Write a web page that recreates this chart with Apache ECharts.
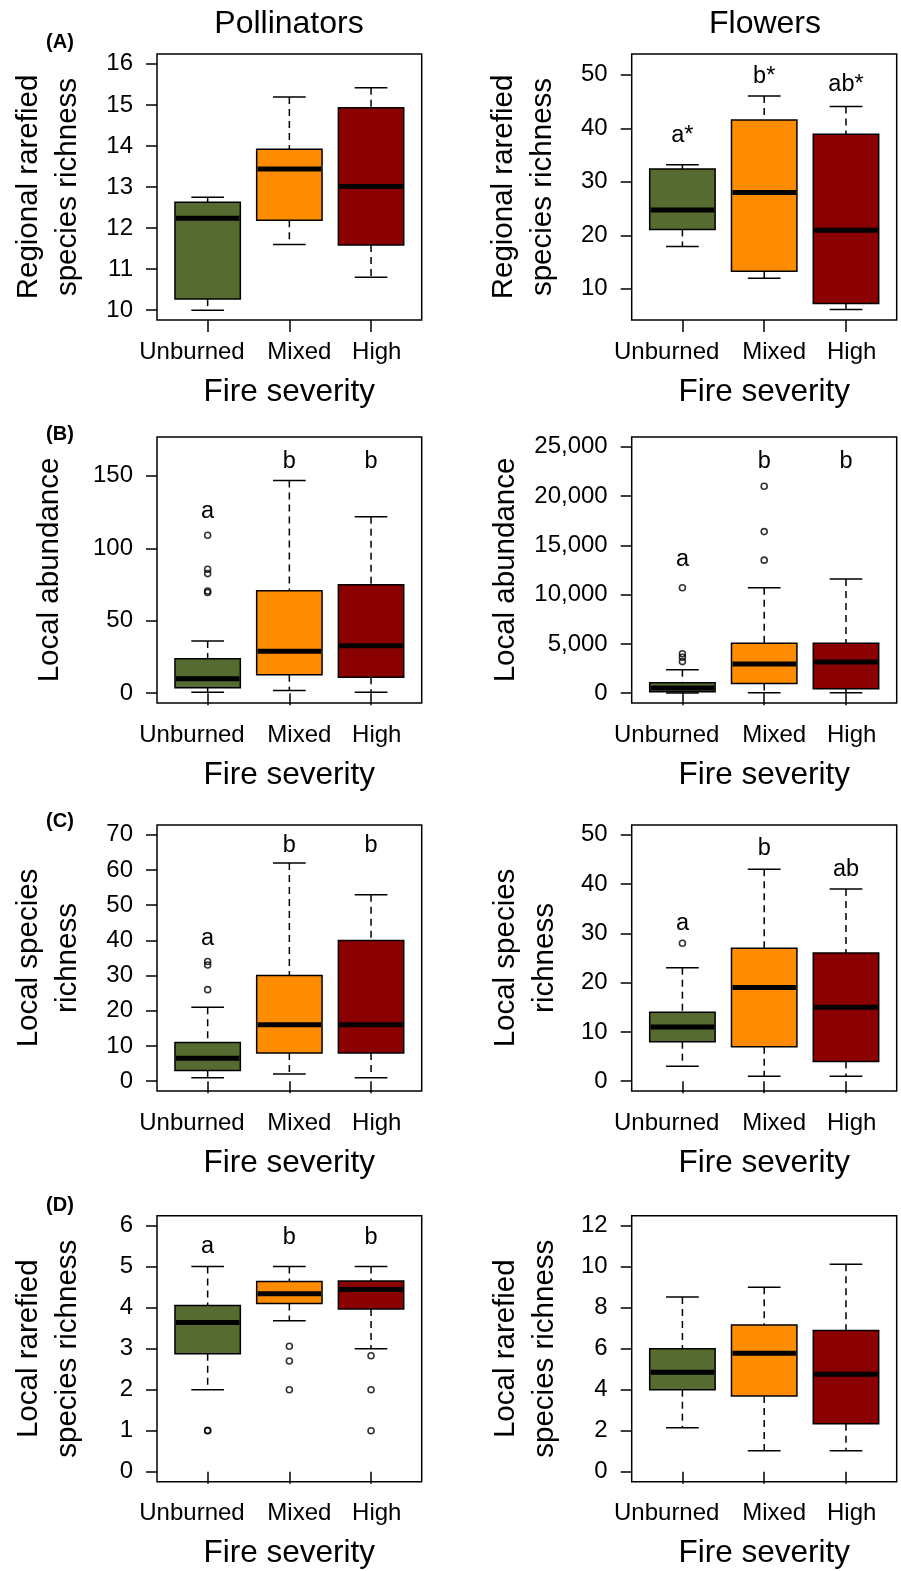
<!DOCTYPE html>
<html>
<head>
<meta charset="utf-8">
<title>Fire severity boxplots</title>
<script src="https://cdn.jsdelivr.net/npm/echarts@6/dist/echarts.min.js"></script>
<style>
  html, body { margin: 0; padding: 0; background: #fff; }
  #chart { width: 901px; height: 1571px; }
</style>
</head>
<body>
<div id="chart"></div>
<script>
const categories = ['Unburned', 'Mixed', 'High'];
const fillColors = ['#556B2F', '#FF8C00', '#8B0000'];

// each row: [lower whisker, Q1, median, Q3, upper whisker] for Unburned, Mixed, High
const regionalPollinators = [[10.0, 10.27, 12.24, 12.63, 12.75], [11.6, 12.19, 13.44, 13.92, 15.19], [10.8, 11.59, 13.01, 14.93, 15.42]];
const regionalFlowers = [[17.9, 21.06, 24.7, 32.4, 33.19], [11.94, 13.25, 28.0, 41.56, 46.06], [6.1, 7.25, 20.94, 38.9, 44.06]];
const abundancePollinators = [[0.7, 3.7, 9.9, 23.8, 36], [1.9, 12.7, 28.9, 70.7, 146.8], [0.7, 10.9, 32.8, 74.9, 121.8]];
const abundanceFlowers = [[20, 136, 510, 1053, 2378], [50, 985, 2955, 5061, 10700], [50, 442, 3159, 5061, 11583]];
const richnessPollinators = [[1, 3, 6.5, 11, 21], [2, 8, 16, 30, 62], [1, 8, 16, 40, 53]];
const richnessFlowers = [[3, 8, 11, 14, 23], [1, 7, 19, 27, 43], [1, 4, 15, 26, 39]];
const rarefiedPollinators = [[2, 2.88, 3.64, 4.05, 5], [3.68, 4.1, 4.34, 4.64, 5], [3, 3.97, 4.44, 4.65, 5]];
const rarefiedFlowers = [[2.15, 4, 4.85, 6, 8.52], [1.03, 3.7, 5.78, 7.15, 9], [1.03, 2.34, 4.75, 6.89, 10.11]];

// outliers per category
const abundancePollinatorsOutliers = [[109, 85.5, 82.5, 70.5, 69.5], [], []];
const abundanceFlowersOutliers = [[10700, 4000, 3650, 3200], [21000, 16400, 13500], []];
const richnessPollinatorsOutliers = [[34, 33, 26], [], []];
const richnessFlowersOutliers = [[28], [], []];
const rarefiedPollinatorsOutliers = [[1, 1.01], [3.06, 2.7, 2], [2.83, 2, 1]];

// significance letters and the value they sit at
const regionalFlowersLetters = ['a*', 'b*', 'ab*'];
const regionalFlowersLetterAt = [38.7, 49.6, 48.1];
const abundancePollinatorsLetters = ['a', 'b', 'b'];
const abundancePollinatorsLetterAt = [125.7, 160.2, 160.2];
const abundanceFlowersLetters = ['a', 'b', 'b'];
const abundanceFlowersLetterAt = [13554, 23473, 23473];
const richnessPollinatorsLetters = ['a', 'b', 'b'];
const richnessPollinatorsLetterAt = [40.6, 66.9, 66.9];
const richnessFlowersLetters = ['a', 'b', 'ab'];
const richnessFlowersLetterAt = [31.9, 47.15, 42.9];
const rarefiedPollinatorsLetters = ['a', 'b', 'b'];
const rarefiedPollinatorsLetterAt = [5.48, 5.71, 5.71];

// y tick labels
const regionalPollinatorsTicks = [10, 11, 12, 13, 14, 15, 16];
const regionalFlowersTicks = [10, 20, 30, 40, 50];
const abundancePollinatorsTicks = [0, 50, 100, 150];
const abundanceFlowersTicks = [0, 5000, 10000, 15000, 20000, 25000];
const richnessPollinatorsTicks = [0, 10, 20, 30, 40, 50, 60, 70];
const richnessFlowersTicks = [0, 10, 20, 30, 40, 50];
const rarefiedPollinatorsTicks = [0, 1, 2, 3, 4, 5, 6];
const rarefiedFlowersTicks = [0, 2, 4, 6, 8, 10, 12];

const FONT = "'Liberation Sans', Arial, Helvetica, sans-serif";

const panels = [
  { box: regionalPollinators, ticks: regionalPollinatorsTicks, yMin: 9.76, yMax: 16.24, yName: 'Regional rarefied\nspecies richness', nameGap: 70 },
  { box: regionalFlowers, ticks: regionalFlowersTicks, yMin: 4.15, yMax: 53.9, yName: 'Regional rarefied\nspecies richness', nameGap: 69,
    letters: regionalFlowersLetters, letterAt: regionalFlowersLetterAt },
  { box: abundancePollinators, ticks: abundancePollinatorsTicks, yMin: -6.8, yMax: 176.8, yName: 'Local abundance', nameGap: 88,
    outliers: abundancePollinatorsOutliers, letters: abundancePollinatorsLetters, letterAt: abundancePollinatorsLetterAt },
  { box: abundanceFlowers, ticks: abundanceFlowersTicks, yMin: -1000, yMax: 26000, yName: 'Local abundance', nameGap: 106,
    outliers: abundanceFlowersOutliers, letters: abundanceFlowersLetters, letterAt: abundanceFlowersLetterAt },
  { box: richnessPollinators, ticks: richnessPollinatorsTicks, yMin: -2.8, yMax: 72.8, yName: 'Local species\nrichness', nameGap: 69.5,
    outliers: richnessPollinatorsOutliers, letters: richnessPollinatorsLetters, letterAt: richnessPollinatorsLetterAt },
  { box: richnessFlowers, ticks: richnessFlowersTicks, yMin: -2, yMax: 52, yName: 'Local species\nrichness', nameGap: 67.5,
    outliers: richnessFlowersOutliers, letters: richnessFlowersLetters, letterAt: richnessFlowersLetterAt },
  { box: rarefiedPollinators, ticks: rarefiedPollinatorsTicks, yMin: -0.24, yMax: 6.24, yName: 'Local rarefied\nspecies richness', nameGap: 69.5,
    outliers: rarefiedPollinatorsOutliers, letters: rarefiedPollinatorsLetters, letterAt: rarefiedPollinatorsLetterAt },
  { box: rarefiedFlowers, ticks: rarefiedFlowersTicks, yMin: -0.48, yMax: 12.48, yName: 'Local rarefied\nspecies richness', nameGap: 67.5 }
];

const colLeft = [157, 631.7];
const colWidth = [264.7, 265];
const rowTop = [54, 437, 825, 1215.7];
const plotHeight = 266;
const labelAt = [0.808, 2.122, 3.07];

const grid = [], xAxis = [], yAxis = [], series = [];

panels.forEach(function (p, i) {
  const row = Math.floor(i / 2), col = i % 2;
  grid.push({
    left: colLeft[col], top: rowTop[row], width: colWidth[col], height: plotHeight,
    show: true, borderColor: '#000', borderWidth: 1.5, backgroundColor: 'transparent'
  });
  xAxis.push({
    gridIndex: i, type: 'value', min: 0.38, max: 3.62,
    axisLine: { show: false }, splitLine: { show: false },
    axisTick: { show: true, inside: false, length: 12, customValues: [1, 2, 3], lineStyle: { color: '#000', width: 1.5 } },
    axisLabel: {
      customValues: labelAt, margin: 20, fontSize: 24, color: '#000', fontFamily: FONT,
      formatter: function (v) { return categories[Math.round(v) - 1]; }
    },
    name: 'Fire severity', nameLocation: 'middle', nameGap: 56,
    nameTextStyle: { fontSize: 31.5, color: '#000', fontFamily: FONT }
  });
  yAxis.push({
    gridIndex: i, type: 'value', min: p.yMin, max: p.yMax,
    axisLine: { show: false }, splitLine: { show: false },
    axisTick: { show: true, inside: false, length: 11, customValues: p.ticks, lineStyle: { color: '#000', width: 1.5 } },
    axisLabel: {
      customValues: p.ticks, margin: 24, fontSize: 24, color: '#000', fontFamily: FONT,
      formatter: function (v) { return v.toLocaleString('en-US'); }
    },
    name: p.yName, nameLocation: 'middle', nameGap: p.nameGap,
    nameTextStyle: { fontSize: 29.5, lineHeight: 39, color: '#000', fontFamily: FONT }
  });

  // boxes
  series.push({
    type: 'custom', xAxisIndex: i, yAxisIndex: i, silent: true,
    data: p.box.map(function (s, k) { return [k + 1].concat(s); }),
    renderItem: function (params, api) {
      const x = api.value(0);
      const cx = api.coord([x, 0])[0];
      const half = api.size([0.4, 0])[0];
      const cap = half / 2;
      const yLo = api.coord([x, api.value(1)])[1];
      const yQ1 = api.coord([x, api.value(2)])[1];
      const yMed = api.coord([x, api.value(3)])[1];
      const yQ3 = api.coord([x, api.value(4)])[1];
      const yHi = api.coord([x, api.value(5)])[1];
      const dashed = { stroke: '#000', lineWidth: 1.5, lineDash: [7, 5], fill: null };
      const solid = { stroke: '#000', lineWidth: 1.5, fill: null };
      return {
        type: 'group',
        children: [
          { type: 'line', shape: { x1: cx, y1: yHi, x2: cx, y2: yQ3 }, style: dashed },
          { type: 'line', shape: { x1: cx, y1: yQ1, x2: cx, y2: yLo }, style: dashed },
          { type: 'line', shape: { x1: cx - cap, y1: yHi, x2: cx + cap, y2: yHi }, style: solid },
          { type: 'line', shape: { x1: cx - cap, y1: yLo, x2: cx + cap, y2: yLo }, style: solid },
          { type: 'rect', shape: { x: cx - half, y: yQ3, width: 2 * half, height: yQ1 - yQ3 },
            style: { fill: fillColors[params.dataIndex], stroke: '#000', lineWidth: 1.5 } },
          { type: 'line', shape: { x1: cx - half + 1, y1: yMed, x2: cx + half - 1, y2: yMed },
            style: { stroke: '#000', lineWidth: 5, fill: null } }
        ]
      };
    }
  });

  // outliers
  if (p.outliers) {
    const pts = [];
    p.outliers.forEach(function (vals, k) {
      vals.forEach(function (v) { pts.push([k + 1, v]); });
    });
    series.push({
      type: 'scatter', xAxisIndex: i, yAxisIndex: i, silent: true,
      symbol: 'circle', symbolSize: 6, data: pts,
      itemStyle: { color: 'rgba(0,0,0,0)', borderColor: '#000', borderWidth: 1.6 }
    });
  }

  // letters
  if (p.letters) {
    series.push({
      type: 'custom', xAxisIndex: i, yAxisIndex: i, silent: true,
      data: p.letterAt.map(function (v, k) { return [k + 1, v]; }),
      renderItem: function (params, api) {
        const pt = api.coord([api.value(0), api.value(1)]);
        return {
          type: 'text', x: pt[0], y: pt[1],
          style: { text: p.letters[params.dataIndex], fill: '#000', fontSize: 23.5, fontFamily: FONT,
                   align: 'center', verticalAlign: 'middle' }
        };
      }
    });
  }
});

const titleStyle = { fontSize: 32, fontWeight: 'normal', color: '#000', fontFamily: FONT };
const tagStyle = { fontSize: 20, fontWeight: 'bold', color: '#000', fontFamily: FONT };

const chart = echarts.init(document.getElementById('chart'), null, { renderer: 'canvas' });
chart.setOption({
  backgroundColor: '#fff',
  animation: false,
  title: [
    { text: 'Pollinators', left: 289, top: 8, textAlign: 'center', padding: 0, textStyle: titleStyle },
    { text: 'Flowers', left: 765, top: 8, textAlign: 'center', padding: 0, textStyle: titleStyle },
    { text: '(A)', left: 60, top: 32, textAlign: 'center', padding: 0, textStyle: tagStyle },
    { text: '(B)', left: 60, top: 424, textAlign: 'center', padding: 0, textStyle: tagStyle },
    { text: '(C)', left: 60, top: 811, textAlign: 'center', padding: 0, textStyle: tagStyle },
    { text: '(D)', left: 60, top: 1195, textAlign: 'center', padding: 0, textStyle: tagStyle }
  ],
  grid: grid,
  xAxis: xAxis,
  yAxis: yAxis,
  series: series
});
</script>
</body>
</html>
